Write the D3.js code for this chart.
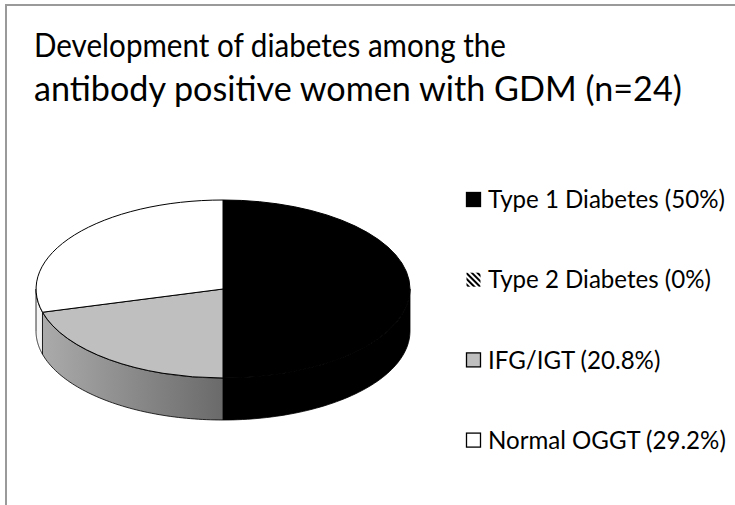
<!DOCTYPE html>
<html>
<head>
<meta charset="utf-8">
<script src="https://cdn.jsdelivr.net/npm/d3@7"></script>
<style>
  body { margin: 0; background: #fff; }
  text { font-family: Lato, "Liberation Sans", sans-serif; fill: #000; }
</style>
</head>
<body>
<div id="chart"></div>
<script>
// Chart data
const categories = ['Type 1 Diabetes', 'Type 2 Diabetes', 'IFG/IGT', 'Normal OGGT'];
const percents = [50, 0, 20.8, 29.2];
const titleLines = ['Development of diabetes among the', 'antibody positive women with GDM (n=24)'];

// Set svg dimensions
let svgWidth = 735;
let svgHeight = 505;

let svg = d3.select('#chart').append('svg')
    .attr('width', svgWidth)
    .attr('height', svgHeight);

let defs = svg.append('defs');

// hatch pattern for type 2 legend marker
let hatch = defs.append('pattern')
    .attr('id', 'hatch')
    .attr('patternUnits', 'userSpaceOnUse')
    .attr('width', 4)
    .attr('height', 4)
    .attr('patternTransform', 'rotate(-45)');
hatch.append('rect').attr('width', 4).attr('height', 4).attr('fill', '#fff');
hatch.append('rect').attr('width', 2).attr('height', 4).attr('fill', '#000');

// side gradients
let sideGrad = [
    ['sideBlack', '#000000', '#000000'],
    ['sideHatch', '#555555', '#333333'],
    ['sideGray', '#adadad', '#6a6a6a'],
    ['sideWhite', '#f4f4f4', '#d8d8d8']
];
sideGrad.forEach(g => {
    let lg = defs.append('linearGradient')
        .attr('id', g[0])
        .attr('gradientUnits', 'userSpaceOnUse')
        .attr('x1', 36).attr('x2', 223).attr('y1', 0).attr('y2', 0);
    lg.append('stop').attr('offset', '0%').attr('stop-color', g[1]);
    lg.append('stop').attr('offset', '100%').attr('stop-color', g[2]);
});

let color = d3.scaleOrdinal()
    .domain(categories)
    .range(['#000000', 'url(#hatch)', '#bfbfbf', '#ffffff']);
let sideColor = d3.scaleOrdinal()
    .domain(categories)
    .range(['url(#sideBlack)', 'url(#sideHatch)', 'url(#sideGray)', 'url(#sideWhite)']);

// scale a text's font size so it spans the given width
function fitWidth(sel, target) {
    sel.each(function() {
        let t = d3.select(this);
        let w = this.getComputedTextLength();
        let s = parseFloat(t.style('font-size'));
        t.style('font-size', (s * target / w) + 'px');
    });
}

// outer frame
svg.append('rect')
    .attr('x', 6)
    .attr('y', 5)
    .attr('width', 740)
    .attr('height', 510)
    .attr('fill', 'none')
    .attr('stroke', '#9a9a9a')
    .attr('stroke-width', 2);

// Title: first line is narrow (condensed to its width), second line a bit larger
let titleWidths = [472, 648];
let titleText = svg.append('g').selectAll('text')
    .data(titleLines).enter()
    .append('text')
    .attr('x', 34)
    .attr('y', (d, i) => 57 + i * 44)
    .style('font-size', (d, i) => i === 0 ? '32px' : '34px')
    .text(d => d);
titleText.filter((d, i) => i === 0)
    .attr('textLength', titleWidths[0])
    .attr('lengthAdjust', 'spacingAndGlyphs');
fitWidth(titleText.filter((d, i) => i === 1), titleWidths[1]);

// Pie
let cx = 223, cy = 289, rx = 187, ry = 89, depth = 42;
let pie = d3.pie().sort(null).value(d => d.value);
let arcsData = pie(categories.map((c, i) => ({ name: c, value: percents[i] })));

let px = a => cx + rx * Math.sin(a);
let py = a => cy - ry * Math.cos(a);

// side walls (front half only)
let sideG = svg.append('g');
arcsData.forEach(d => {
    let a0 = Math.max(d.startAngle, Math.PI / 2);
    let a1 = Math.min(d.endAngle, 3 * Math.PI / 2);
    if (a1 <= a0) return;
    let steps = 60;
    let top = d3.range(steps + 1).map(k => a0 + (a1 - a0) * k / steps);
    let pts = top.map(a => [px(a), py(a)])
        .concat(top.slice().reverse().map(a => [px(a), py(a) + depth]));
    sideG.append('path')
        .attr('d', d3.line()(pts) + 'Z')
        .attr('fill', sideColor(d.data.name))
        .attr('stroke', '#000')
        .attr('stroke-width', 0.8)
        .attr('stroke-linejoin', 'round');
});

// top faces
let arc = d3.arc().innerRadius(0).outerRadius(1);
svg.append('g')
    .attr('transform', `translate(${cx}, ${cy}) scale(${rx}, ${ry})`)
    .selectAll('path')
    .data(arcsData.filter(d => d.value > 0)).enter()
    .append('path')
    .attr('d', arc)
    .attr('fill', d => color(d.data.name))
    .attr('stroke', '#000')
    .attr('stroke-width', 1)
    .attr('vector-effect', 'non-scaling-stroke');

// Legend
let legend = svg.append('g').selectAll('g')
    .data(categories).enter()
    .append('g')
    .attr('transform', (d, i) => `translate(466, ${199.5 + i * 80.2})`);

legend.append('rect')
    .attr('x', 0.5)
    .attr('y', -7)
    .attr('width', 14)
    .attr('height', 14)
    .attr('fill', d => color(d))
    .attr('stroke', (d, i) => i === 1 ? 'none' : '#000')
    .attr('stroke-width', 1.3);

let legendText = legend.append('text')
    .attr('x', 22)
    .attr('y', 0)
    .attr('dy', '0.36em')
    .style('font-size', '21px')
    .text((d, i) => `${d} (${percents[i]}%)`);

// size all legend labels from the first row's width
fitWidth(legendText.filter((d, i) => i === 0), 237);
legendText.style('font-size', legendText.filter((d, i) => i === 0).style('font-size'));
</script>
</body>
</html>
